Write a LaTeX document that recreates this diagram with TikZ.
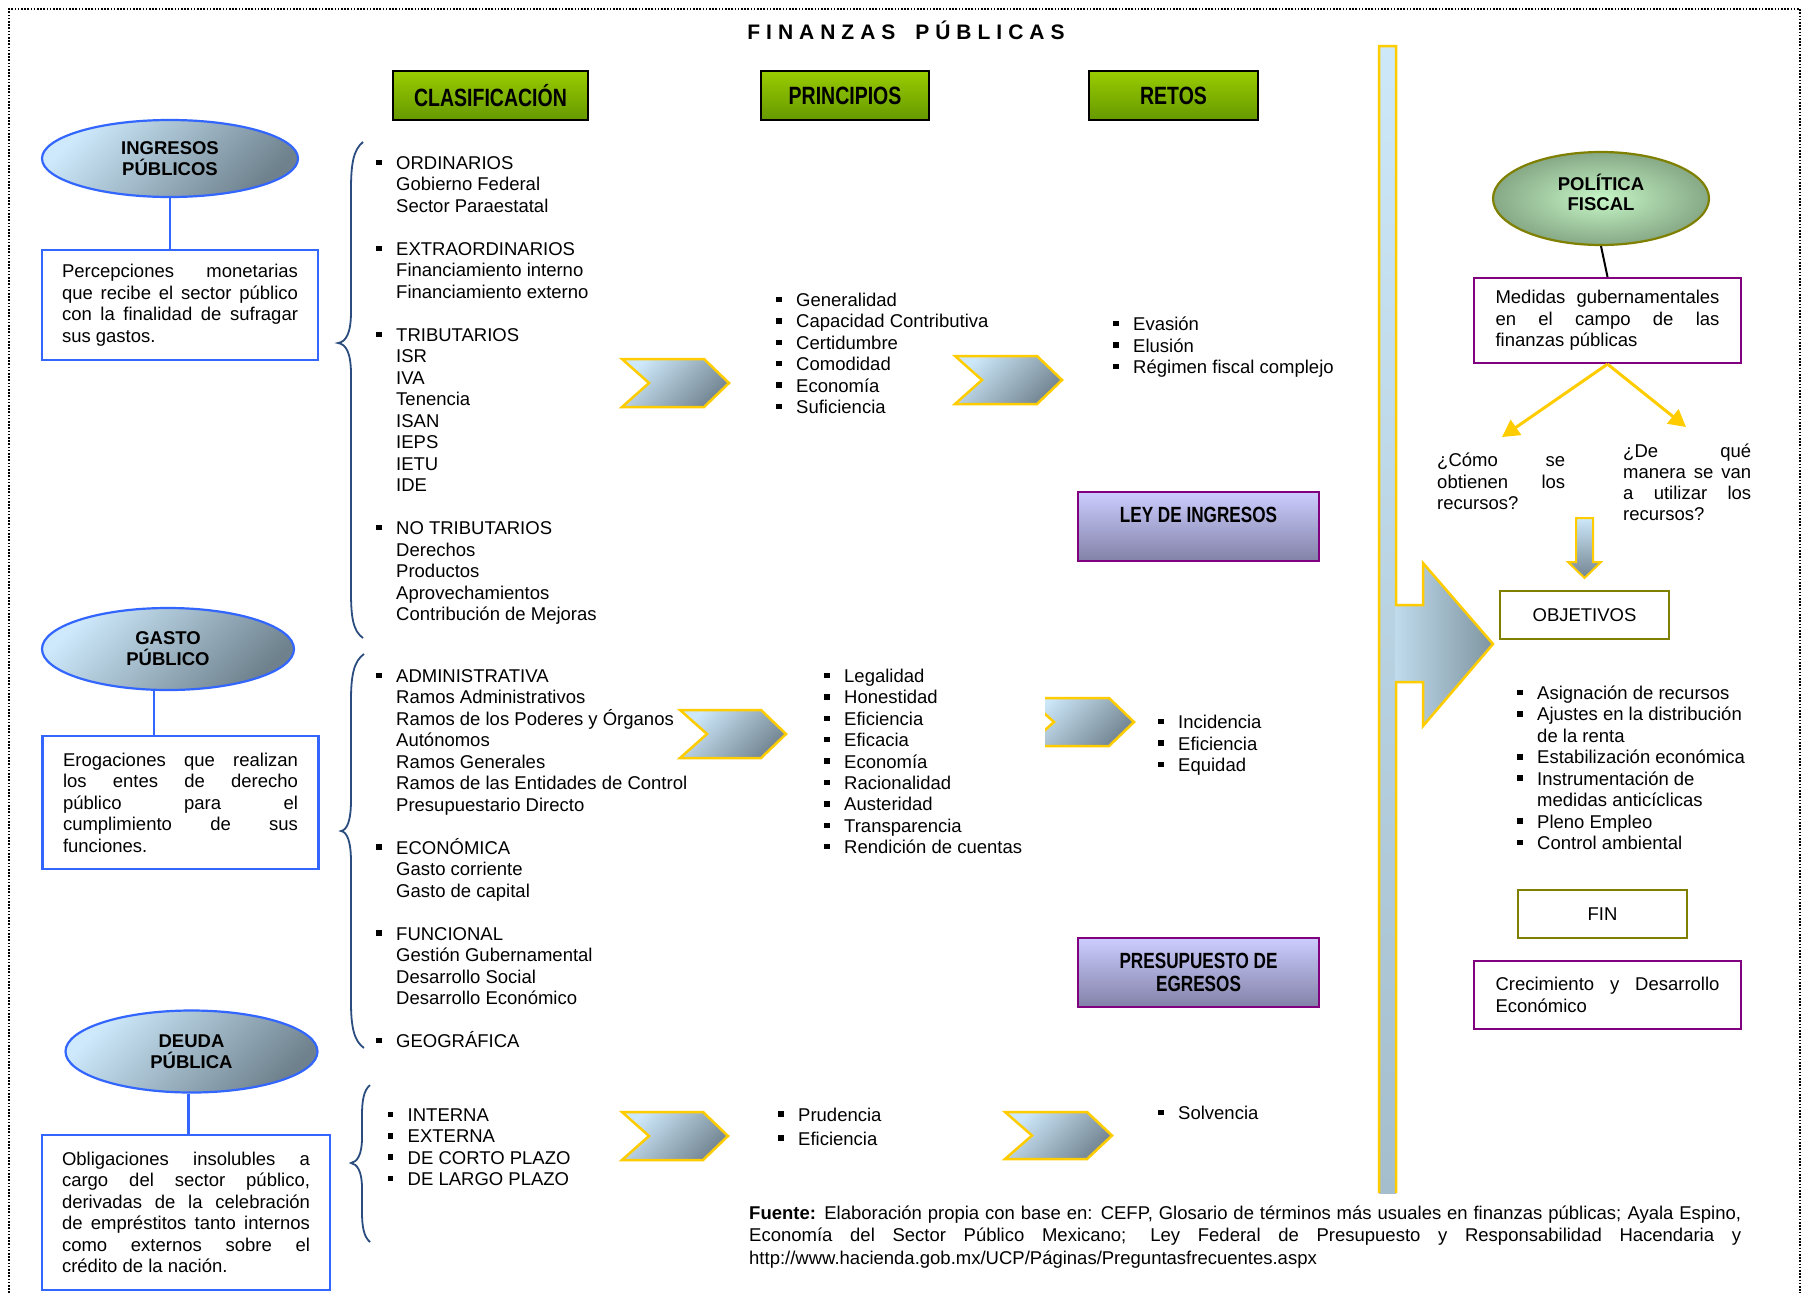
\documentclass[tikz,border=0pt]{standalone}
\usepackage{fontspec}
\setmainfont{Liberation Sans}
\newfontfamily\narrowfont{Liberation Sans}[FakeStretch=0.78]
\usetikzlibrary{shapes.geometric,arrows.meta,calc}

\definecolor{hdrtop}{HTML}{99CC00}
\definecolor{hdrbot}{HTML}{669900}
\definecolor{bluebrd}{HTML}{3366FF}
\definecolor{blueL}{HTML}{CDE9FB}
\definecolor{blueD}{HTML}{6E818D}
\definecolor{yel}{HTML}{FFCC00}
\definecolor{purbrd}{HTML}{800080}
\definecolor{purtop}{HTML}{CCCCFF}
\definecolor{purbot}{HTML}{8282A8}
\definecolor{oliv}{HTML}{808000}
\definecolor{grin}{HTML}{C6F6C6}
\definecolor{grout}{HTML}{86A886}
\definecolor{brc}{HTML}{2B4C7E}
\definecolor{chL}{HTML}{CDE8FA}
\definecolor{chD}{HTML}{728490}
\definecolor{barT}{HTML}{CDE8F8}
\definecolor{barB}{HTML}{A4BECE}
\definecolor{barM}{HTML}{BFDBEC}
\definecolor{barD}{HTML}{7F95A1}

\setlength{\lineskiplimit}{-40pt}
% square bullet and hanging indent for list lines
\newcommand\bul{\makebox[20pt][l]{\rule[4.3pt]{5.5pt}{5.5pt}}}
\newcommand\subi{\hspace*{20pt}}
% fully justified single line
\newcommand\jl[2]{\makebox[#1][s]{#2}}
\newcommand\lsp{\hspace{6pt}}
% chevron: left x, top y, bottom y, tip x
\newcommand\chevron[4]{\draw[chev] (#1,#2) -- (#4-25,#2) -- (#4,{(#2+#3)/2}) -- (#4-25,#3) -- (#1,#3) -- (#1+27,{(#2+#3)/2}) -- cycle;}

\tikzset{
  hdr/.style={draw=black, line width=2.5pt, top color=hdrtop, bottom color=hdrbot, inner sep=0pt, minimum height=49pt, font=\narrowfont\bfseries\fontsize{25}{27}\selectfont},
  ell/.style={ellipse, draw=bluebrd, line width=2.2pt, top color=blueL, bottom color=blueD, shading angle=45, inner sep=0pt, align=center, font=\bfseries\fontsize{18.5}{21}\selectfont},
  bbox/.style={draw=bluebrd, line width=2.2pt, fill=white, inner sep=0pt, font=\fontsize{18.5}{21.5}\selectfont},
  obox/.style={draw=oliv, line width=2.5pt, fill=white, inner sep=0pt, font=\fontsize{18.5}{21.5}\selectfont},
  mbox/.style={draw=purbrd, line width=2.2pt, fill=white, inner sep=0pt, font=\fontsize{18.5}{21.5}\selectfont},
  pbox/.style={draw=purbrd, line width=2.5pt, top color=purtop, bottom color=purbot, inner sep=0pt, minimum width=241pt, minimum height=69pt, align=center, font=\narrowfont\bfseries\fontsize{22}{23}\selectfont},
  gell/.style={ellipse, draw=oliv, line width=2.2pt, inner color=grin, outer color=grout, inner sep=0pt},
  lst/.style={inner sep=0pt, anchor=base west},
  conn/.style={draw=bluebrd, line width=2.2pt},
  brace/.style={draw=brc, line width=1.8pt},
  chev/.style={draw=yel, line width=2.5pt, line join=miter, top color=chL, bottom color=chD, shading angle=45},
  yarrow/.style={draw=yel, line width=3pt, -{Triangle[length=17pt,width=18pt]}},
}

\begin{document}
\begin{tikzpicture}[x=1pt, y=-1pt]
\useasboundingbox (0,0) rectangle (1803,1293);
\fill[white] (0,0) rectangle (1803,1293);

% dotted frame
\draw[line width=1.6pt, dash pattern=on 1.6pt off 1.6pt] (9,1293) -- (9,9) -- (1800,9) -- (1800,1293);

% title
\node[font=\bfseries\fontsize{21}{24}\selectfont, anchor=base, inner sep=0pt] (title) at (906,39.5)
  {F\lsp I\lsp N\lsp A\lsp N\lsp Z\lsp A\lsp S\hspace{7pt} \hspace{7pt}P\lsp Ú\lsp B\lsp L\lsp I\lsp C\lsp A\lsp S};

% column headers
\node[hdr, minimum width=195pt] (clas) at (490.5,95.5) {CLASIFICACIÓN};
\node[hdr, minimum width=168pt] (prin) at (845,95.5) {PRINCIPIOS};
\node[hdr, minimum width=169pt] (ret) at (1173.5,95.5) {RETOS};

% left column: concepts and definitions
\node[ell, minimum width=256pt, minimum height=77pt] (ing) at (170,158.5) {INGRESOS\\PÚBLICOS};
\node[bbox, minimum width=276pt, minimum height=110pt] (ingbox) at (180,305)
  {\parbox{236pt}{\jl{236pt}{Percepciones monetarias}\\ \jl{236pt}{que recibe el sector público}\\ \jl{236pt}{con la finalidad de sufragar}\\ sus gastos.}};
\draw[conn] (ing.south) -- (ing.south |- ingbox.north);

\node[ell, minimum width=252pt, minimum height=82pt] (gas) at (168,649) {GASTO\\PÚBLICO};
\node[bbox, minimum width=276pt, minimum height=133pt] (gasbox) at (180.5,802.5)
  {\parbox{235pt}{\jl{235pt}{Erogaciones que realizan}\\ \jl{235pt}{los entes de derecho}\\ \jl{235pt}{público para el}\\ \jl{235pt}{cumplimiento de sus}\\ funciones.}};
\draw[conn] (gas.251) -- (gas.251 |- gasbox.north);

\node[ell, minimum width=252pt, minimum height=82pt] (deu) at (191.5,1051.5) {DEUDA\\PÚBLICA};
\node[bbox, minimum width=288pt, minimum height=155pt] (deubox) at (186,1212.5)
  {\parbox{248pt}{\jl{248pt}{Obligaciones insolubles a}\\ \jl{248pt}{cargo del sector público,}\\ \jl{248pt}{derivadas de la celebración}\\ \jl{248pt}{de empréstitos tanto internos}\\ \jl{248pt}{como externos sobre el}\\ crédito de la nación.}};
\draw[conn] (deu.266) -- (deu.266 |- deubox.north);

% braces
\draw[brace] (363,142) .. controls (353,150) and (351,165) .. (351,190) -- (351,312)
  .. controls (351,333) and (346,342) .. (338,343) .. controls (346,344) and (351,353) .. (351,374)
  -- (351,592) .. controls (351,617) and (353,631) .. (363,638);
\draw[brace] (364,654) .. controls (354,661) and (351,675) .. (351,700) -- (351,800)
  .. controls (351,821) and (347,830) .. (341,831) .. controls (347,832) and (351,841) .. (351,862)
  -- (351,1002) .. controls (351,1027) and (354,1041) .. (364,1048);
\draw[brace] (370,1085) .. controls (364,1090) and (362,1100) .. (362,1115) -- (362,1138)
  .. controls (362,1155) and (357,1162) .. (351,1163) .. controls (357,1164) and (362,1171) .. (362,1188)
  -- (362,1212) .. controls (362,1227) and (364,1237) .. (370,1242);

% classification lists
\node[lst, font=\fontsize{18.5}{21.48}\selectfont] (clasA) at (376,169.5) {\parbox[t]{400pt}{%
\bul ORDINARIOS\\ \subi Gobierno Federal\\ \subi Sector Paraestatal\\ \mbox{}\\
\bul EXTRAORDINARIOS\\ \subi Financiamiento interno\\ \subi Financiamiento externo\\ \mbox{}\\
\bul TRIBUTARIOS\\ \subi ISR\\ \subi IVA\\ \subi Tenencia\\ \subi ISAN\\ \subi IEPS\\ \subi IETU\\ \subi IDE\\ \mbox{}\\
\bul NO TRIBUTARIOS\\ \subi Derechos\\ \subi Productos\\ \subi Aprovechamientos\\ \subi Contribución de Mejoras}};

\node[lst, font=\fontsize{18.5}{21.47}\selectfont] (clasB) at (376,682.5) {\parbox[t]{400pt}{%
\bul ADMINISTRATIVA\\ \subi Ramos Administrativos\\ \subi Ramos de los Poderes y Órganos\\ \subi Autónomos\\ \subi Ramos Generales\\ \subi Ramos de las Entidades de Control\\ \subi Presupuestario Directo\\ \mbox{}\\
\bul ECONÓMICA\\ \subi Gasto corriente\\ \subi Gasto de capital\\ \mbox{}\\
\bul FUNCIONAL\\ \subi Gestión Gubernamental\\ \subi Desarrollo Social\\ \subi Desarrollo Económico\\ \mbox{}\\
\bul GEOGRÁFICA}};

\node[lst, font=\fontsize{18.5}{21.3}\selectfont] (clasC) at (387.5,1121.5) {\parbox[t]{300pt}{%
\bul INTERNA\\ \bul EXTERNA\\ \bul DE CORTO PLAZO\\ \bul DE LARGO PLAZO}};

% principles lists
\node[lst, font=\fontsize{18.5}{21.4}\selectfont] (prinA) at (776,306.5) {\parbox[t]{300pt}{%
\bul Generalidad\\ \bul Capacidad Contributiva\\ \bul Certidumbre\\ \bul Comodidad\\ \bul Economía\\ \bul Suficiencia}};
\node[lst, font=\fontsize{18.5}{21.4}\selectfont] (prinB) at (824,682.5) {\parbox[t]{300pt}{%
\bul Legalidad\\ \bul Honestidad\\ \bul Eficiencia\\ \bul Eficacia\\ \bul Economía\\ \bul Racionalidad\\ \bul Austeridad\\ \bul Transparencia\\ \bul Rendición de cuentas}};
\node[lst, font=\fontsize{18.5}{24}\selectfont] (prinC) at (778,1121) {\parbox[t]{300pt}{%
\bul Prudencia\\ \bul Eficiencia}};

% challenges lists
\node[lst, font=\fontsize{18.5}{21.5}\selectfont] (retA) at (1113,330.5) {\parbox[t]{300pt}{%
\bul Evasión\\ \bul Elusión\\ \bul Régimen fiscal complejo}};
\node[lst, font=\fontsize{18.5}{21.5}\selectfont] (retB) at (1158,728.5) {\parbox[t]{200pt}{%
\bul Incidencia\\ \bul Eficiencia\\ \bul Equidad}};
\node[lst, font=\fontsize{18.5}{21.5}\selectfont] (retC) at (1158,1119.5) {\parbox[t]{200pt}{\bul Solvencia}};

% chevrons between columns
\chevron{622}{359}{407}{729}
\chevron{955}{356}{404}{1062}
\chevron{680}{710}{758}{786}
\begin{scope}
  \clip (1045,650) rectangle (1200,800);
  \chevron{1027}{698}{746}{1134}
\end{scope}
\chevron{622}{1112}{1160}{728}
\chevron{1005}{1112}{1159}{1112}

% legal instruments
\node[pbox] (ley) at (1198.5,526.5) {LEY DE INGRESOS\\\mbox{}};
\node[pbox] (pre) at (1198.5,972.5) {PRESUPUESTO DE\\EGRESOS};

% vertical bar with arrow head
\shade[top color=barT, bottom color=barB] (1379,46) rectangle (1396,1193);
\shade[left color=barM, right color=barD] (1395.5,605) -- (1423,605) -- (1423,563) -- (1493,644)
  -- (1423,726) -- (1423,682) -- (1395.5,682) -- cycle;
\draw[yel, line width=2.5pt] (1379,1193) -- (1379,46) -- (1396,46) -- (1396,605) -- (1423,605)
  -- (1423,563) -- (1493,644) -- (1423,726) -- (1423,682) -- (1396,682) -- (1396,1193);

% fiscal policy panel
\node[gell, minimum width=216pt, minimum height=93pt] (pol) at (1601,198.5) {};
\node[font=\bfseries\fontsize{18.5}{20}\selectfont, align=center, inner sep=0pt] (poltxt) at (1601,192) {POLÍTICA\\FISCAL};
\node[mbox, minimum width=267pt, minimum height=85pt] (med) at (1607.5,320.5)
  {\parbox{224pt}{\jl{224pt}{Medidas gubernamentales}\\ \jl{224pt}{en el campo de las}\\ finanzas públicas}};
\draw[line width=2pt] (pol.south) -- (med.north);

\coordinate (qa) at (1502,437);
\coordinate (qb) at (1686,427);
\draw[yarrow] (med.south) -- (qa);
\draw[yarrow] (med.south) -- (qb);

\node[lst, font=\fontsize{18.5}{21.5}\selectfont] (qhow) at (1437,466.5)
  {\parbox[t]{128pt}{\jl{128pt}{¿Cómo se}\\ \jl{128pt}{obtienen los}\\ recursos?}};
\node[lst, font=\fontsize{18.5}{21.3}\selectfont] (quse) at (1623,457)
  {\parbox[t]{128pt}{\jl{128pt}{¿De qué}\\ \jl{128pt}{manera se van}\\ \jl{128pt}{a utilizar los}\\ recursos?}};

\draw[yel, line width=2pt, top color=chL, bottom color=chD] (1576,518) -- (1593,518) -- (1593,562)
  -- (1601,562) -- (1584.5,578) -- (1568,562) -- (1576,562) -- cycle;

\node[obox, minimum width=169pt, minimum height=48pt] (obj) at (1584.5,615) {OBJETIVOS};
\node[lst, font=\fontsize{18.5}{21.43}\selectfont] (objl) at (1517,699.5) {\parbox[t]{260pt}{%
\bul Asignación de recursos\\ \bul Ajustes en la distribución\\ \subi de la renta\\ \bul Estabilización económica\\ \bul Instrumentación de\\ \subi medidas anticíclicas\\ \bul Pleno Empleo\\ \bul Control ambiental}};

\node[obox, minimum width=169pt, minimum height=48pt] (fin) at (1602.5,914) {FIN};
\node[mbox, minimum width=267pt, minimum height=68pt] (cre) at (1607.5,995)
  {\parbox{224pt}{\jl{224pt}{Crecimiento y Desarrollo}\\ Económico}};

% source note
\node[lst, font=\fontsize{18.5}{22.5}\selectfont] (src) at (749,1219) {\parbox[t]{992pt}{%
\jl{992pt}{\textbf{Fuente:} Elaboración propia con base en: CEFP, Glosario de términos más usuales en finanzas públicas; Ayala Espino,}\\
\jl{992pt}{Economía del Sector Público Mexicano; Ley Federal de Presupuesto y Responsabilidad Hacendaria y}\\
http://www.hacienda.gob.mx/UCP/Páginas/Preguntasfrecuentes.aspx}};
\end{tikzpicture}
\end{document}
